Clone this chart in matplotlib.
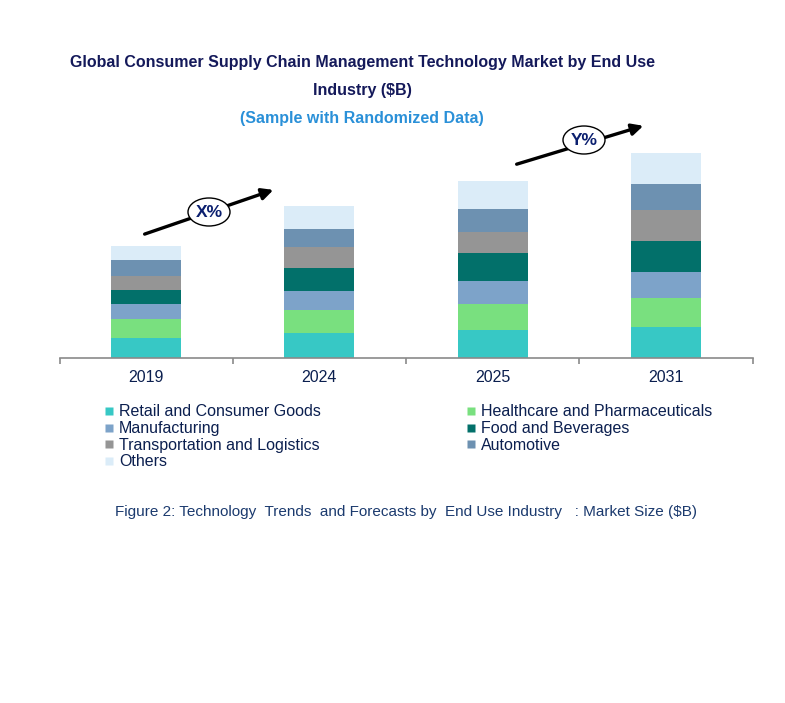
import matplotlib
matplotlib.use("Agg")
import matplotlib.pyplot as plt
from matplotlib.lines import Line2D
from matplotlib.patches import Ellipse, FancyArrowPatch

plt.rcParams['font.family'] = ['Liberation Sans', 'DejaVu Sans']

years = ["2019", "2024", "2025", "2031"]
segments = ["Retail and Consumer Goods", "Healthcare and Pharmaceuticals",
            "Manufacturing", "Food and Beverages",
            "Transportation and Logistics", "Automotive", "Others"]
retail = [2.0, 2.5, 2.8, 3.1]
healthcare = [1.9, 2.3, 2.6, 2.9]
manufacturing = [1.5, 1.9, 2.3, 2.6]
food = [1.4, 2.3, 2.8, 3.1]
transport = [1.4, 2.1, 2.1, 3.1]
automotive = [1.6, 1.8, 2.3, 2.6]
others = [1.4, 2.3, 2.8, 3.1]
series = [retail, healthcare, manufacturing, food, transport, automotive, others]
colors = ["#37C8C5", "#79E07F", "#7DA3C9", "#02706A", "#959595", "#6D91B1", "#DBECF8"]

W, H = 785, 703
fig = plt.figure(figsize=(W / 100, H / 100), dpi=100)

def fx(px):
    return px / W

def fy(py):
    return 1 - py / H

ax_left, ax_right, ax_bottom, ax_top = 59.5, 752.5, 358, 140
ax = fig.add_axes([fx(ax_left), fy(ax_bottom), fx(ax_right - ax_left), (ax_bottom - ax_top) / H])

x = list(range(len(years)))
bottom = [0.0] * len(years)
handles = []
for name, vals, c in zip(segments, series, colors):
    ax.bar(x, vals, width=0.405, bottom=bottom, color=c, edgecolor='none', label=name)
    bottom = [b + v for b, v in zip(bottom, vals)]
    handles.append(Line2D([], [], marker='s', linestyle='none', markersize=5.2,
                          markerfacecolor=c, markeredgecolor='none'))

ax.set_xlim(-0.5, len(years) - 0.5)
ax.set_ylim(0, (ax_bottom - ax_top) / 10)
for s in ['left', 'right', 'top']:
    ax.spines[s].set_visible(False)
ax.spines['bottom'].set_color('#8a8a8a')
ax.spines['bottom'].set_linewidth(1.2)
ax.set_yticks([])
ax.set_xticks(x)
ax.set_xticklabels(years, fontsize=11.5, color='#0B1F4F')
ax.tick_params(axis='x', which='major', length=0, pad=9)
ax.set_xticks([i - 0.5 for i in range(len(years) + 1)], minor=True)
ax.tick_params(axis='x', which='minor', length=4, width=1.2, color='#8a8a8a', direction='out')

# Titles
navy = '#14195A'
fig.text(fx(362), fy(62), "Global Consumer Supply Chain Management Technology Market by End Use",
         ha='center', va='center', fontsize=11.5, fontweight='bold', color=navy)
fig.text(fx(362), fy(90), "Industry ($B)", ha='center', va='center',
         fontsize=11.5, fontweight='bold', color=navy)
fig.text(fx(362), fy(119), "(Sample with Randomized Data)", ha='center', va='center',
         fontsize=11.5, fontweight='bold', color='#2A90D8')

# Growth arrows
def growth(x0, y0, x1, y1, cx, cy, label):
    arr = FancyArrowPatch((fx(x0), fy(y0)), (fx(x1), fy(y1)), transform=fig.transFigure,
                          arrowstyle='-|>', mutation_scale=17, linewidth=2.4, color='black')
    fig.add_artist(arr)
    el = Ellipse((fx(cx), fy(cy)), fx(42), 28 / H, transform=fig.transFigure,
                 facecolor='white', edgecolor='black', linewidth=1.0, zorder=5)
    fig.add_artist(el)
    fig.text(fx(cx), fy(cy + 0.5), label, ha='center', va='center', fontsize=12.5,
             fontweight='bold', color='#0B1F6F', zorder=6)

growth(142, 235, 276, 189, 209, 212, "X%")
growth(514, 165, 646, 125, 584, 140, "Y%")

# Legend in two columns
col1 = [0, 2, 4, 6]
col2 = [1, 3, 5]
legtxt = '#0B1F4F'
for idx, xpos in ((col1, 104), (col2, 466)):
    leg = fig.legend([handles[i] for i in idx], [segments[i] for i in idx],
                     loc='upper left', bbox_to_anchor=(fx(xpos), fy(404.5)),
                     frameon=False, fontsize=11.5, handlelength=0.6, handletextpad=0.35,
                     labelspacing=0.1, borderpad=0, borderaxespad=0, labelcolor=legtxt)

fig.text(fx(406), fy(512),
         "Figure 2: Technology  Trends  and Forecasts by  End Use Industry   : Market Size ($B)",
         ha='center', va='center', fontsize=11, color='#1B3A6E')

fig.savefig("out.png", dpi=100, facecolor='white')
